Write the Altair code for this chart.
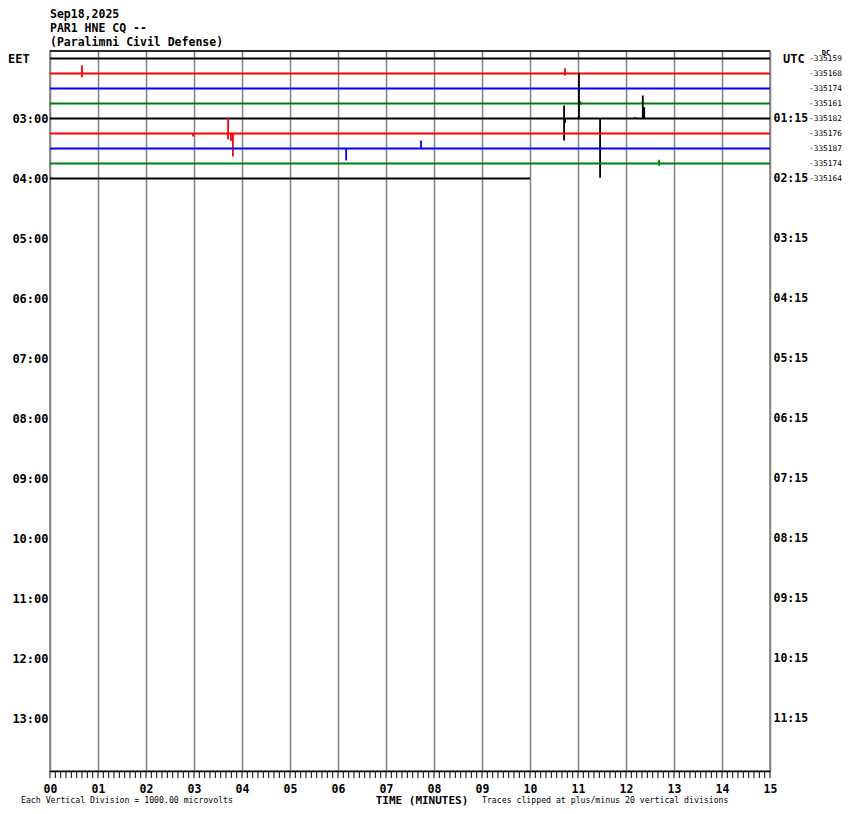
import json
import altair as alt
import pandas as pd

# ---------------- data ----------------
title_lines = ["Sep18,2025", "PAR1 HNE CQ --", "(Paralimni Civil Defense)"]
left_label_rows = [4, 8, 12, 16, 20, 24, 28, 32, 36, 40, 44]
left_labels = ["03:00", "04:00", "05:00", "06:00", "07:00", "08:00",
               "09:00", "10:00", "11:00", "12:00", "13:00"]
right_labels = ["01:15", "02:15", "03:15", "04:15", "05:15", "06:15",
                "07:15", "08:15", "09:15", "10:15", "11:15"]
minute_labels = ["00", "01", "02", "03", "04", "05", "06", "07",
                 "08", "09", "10", "11", "12", "13", "14", "15"]
trace_colors = ["#000000", "#ff0000", "#0000ff", "#007f00"]
trace_rows = [0, 1, 2, 3, 4, 5, 6, 7, 8]
trace_end = [15, 15, 15, 15, 15, 15, 15, 15, 10]
dc_values = ["-335159", "-335168", "-335174", "-335161", "-335182",
             "-335176", "-335187", "-335174", "-335164"]

# spikes: row, minute, amplitude in vertical divisions (+ = up)
spike_rows = [1, 1, 1, 1,
              3, 3,
              4, 4, 4, 4, 4, 4, 4, 4,
              5, 5, 5, 5, 5,
              6, 6,
              7, 7]
spike_minutes = [0.667, 0.667, 10.73, 10.73,
                 11.05, 11.05,
                 10.71, 10.71, 10.73, 11.02, 11.46, 12.19, 12.35, 12.38,
                 2.98, 3.71, 3.71, 3.77, 3.81,
                 6.17, 7.73,
                 12.69, 12.69]
spike_amps = [0.55, -0.25, 0.35, -0.13,
              0.15, -0.1,
              0.87, -1.47, -0.3, 3.05, -3.95, 0.1, 1.53, 0.75,
              -0.2, 1.07, -0.4, -0.5, -1.53,
              -0.8, 0.53,
              0.25, -0.15]

# ---------------- build tables ----------------
recs = []
for r in trace_rows:
    pts = [(0.0, 0.0)]
    ev = sorted([(m, a) for rr, m, a in zip(spike_rows, spike_minutes, spike_amps) if rr == r],
                key=lambda t: t[0])
    for m, a in ev:
        pts += [(m, 0.0), (m, a), (m, 0.0)]
    pts.append((float(trace_end[r]), 0.0))
    for k, (m, a) in enumerate(pts):
        recs.append({"row": r, "order": k, "minute": m, "pos": r - a})
traces = pd.DataFrame(recs)

dc_df = pd.DataFrame({"pos": trace_rows, "dc": dc_values})
ticks_df = pd.DataFrame({"minute": [i / 9 for i in range(15 * 9 + 1)]})

FONT = "DejaVu Sans Mono"
ydom = [-0.5, 47.5]
color_range = [trace_colors[r % 4] for r in trace_rows]

left_expr = "{" + ",".join(f"'{v}':'{t}'" for v, t in zip(left_label_rows, left_labels)) + "}[datum.value]"
right_expr = "{" + ",".join(f"'{v}':'{t}'" for v, t in zip(left_label_rows, right_labels)) + "}[datum.value]"
min_expr = json.dumps(minute_labels) + "[datum.value]"

xscale = alt.Scale(domain=[0, 15], nice=False, zero=False)

lines = alt.Chart(traces).mark_line(strokeWidth=1.8, clip=True).encode(
    x=alt.X("minute:Q", scale=xscale,
            axis=alt.Axis(values=list(range(16)), labelExpr=min_expr, grid=True,
                          gridColor="#808080", gridWidth=1.5, gridOpacity=1,
                          ticks=False, tickSize=0, domainColor="#000000", domainWidth=1.5,
                          labelFont=FONT, labelFontWeight="bold", labelFontSize=11.5,
                          labelColor="#000000", labelPadding=12, labelFlush=False,
                          title=None)),
    y=alt.Y("pos:Q", scale=alt.Scale(domain=ydom, reverse=True, nice=False, zero=False),
            axis=alt.Axis(values=left_label_rows, labelExpr=left_expr, orient="left",
                          ticks=False, tickSize=0, domain=False, grid=False,
                          labelAlign="right", labelPadding=2, labelFont=FONT,
                          labelFontWeight="bold", labelFontSize=12, labelColor="#000000",
                          title=None)),
    color=alt.Color("row:N", scale=alt.Scale(domain=trace_rows, range=color_range), legend=None),
    detail="row:N",
    order="order:Q",
)

dc_text = alt.Chart(dc_df).mark_text(font=FONT, fontSize=7.8, align="left",
                                      baseline="middle", color="#000000").encode(
    x=alt.value(759),
    y=alt.Y("pos:Q", scale=alt.Scale(domain=ydom, reverse=True, nice=False, zero=False),
            axis=alt.Axis(values=left_label_rows, labelExpr=right_expr, orient="right",
                          ticks=False, tickSize=0, domain=False, grid=False,
                          labelAlign="left", labelPadding=3, labelFont=FONT,
                          labelFontWeight="bold", labelFontSize=11.5, labelColor="#000000",
                          title=None)),
    text="dc:N",
)

minor = alt.Chart(ticks_df).mark_rule(color="#000000", strokeWidth=1).encode(
    x=alt.X("minute:Q", scale=xscale),
    y=alt.value(720), y2=alt.value(727),
)

top_border = alt.Chart(pd.DataFrame({"a": [0]})).mark_rule(color="#000000", strokeWidth=1.5).encode(
    x=alt.value(0), x2=alt.value(720), y=alt.value(0)
)

title_df = pd.DataFrame({"t": title_lines, "yy": [-36, -22.5, -8.5]})
title_text = alt.Chart(title_df).mark_text(font=FONT, fontSize=11.5, fontWeight="bold",
                                            align="left", baseline="middle", color="#000000").encode(
    x=alt.value(0), y=alt.Y("yy:Q", scale=None), text="t:N")

side_df = pd.DataFrame({"t": ["EET", "UTC"], "xx": [-42, 733]})
side_text = alt.Chart(side_df).mark_text(font=FONT, fontSize=12, fontWeight="bold",
                                          align="left", baseline="middle", color="#000000").encode(
    x=alt.X("xx:Q", scale=None), y=alt.value(7.5), text="t:N")

dc_head = alt.Chart(pd.DataFrame({"t": ["DC"]})).mark_text(
    font=FONT, fontSize=7, fontWeight="bold", align="center", baseline="middle",
    color="#000000").encode(x=alt.value(776), y=alt.value(2), text="t:N")

bottom_df = pd.DataFrame({
    "t": ["Each Vertical Division = 1000.00 microvolts",
          "Traces clipped at plus/minus 20 vertical divisions"],
    "xx": [-29, 432]})
bottom_text = alt.Chart(bottom_df).mark_text(font=FONT, fontSize=8.2, align="left",
                                              baseline="middle", color="#000000").encode(
    x=alt.X("xx:Q", scale=None), y=alt.value(750), text="t:N")

time_title = alt.Chart(pd.DataFrame({"t": ["TIME (MINUTES)"]})).mark_text(
    font=FONT, fontSize=11, fontWeight="bold", align="center", baseline="middle",
    color="#000000").encode(x=alt.value(372), y=alt.value(750), text="t:N")

chart = alt.layer(lines, dc_text, minor, top_border, title_text, side_text, dc_head,
                  bottom_text, time_title).resolve_scale(y="independent").properties(
    width=720, height=720, padding={"left": 0, "top": 1, "right": 0, "bottom": 0},
    background="#ffffff"
).configure_view(stroke="#808080", strokeWidth=1.5)

chart.save("out.html", embed_options={"renderer": "svg", "actions": False})
